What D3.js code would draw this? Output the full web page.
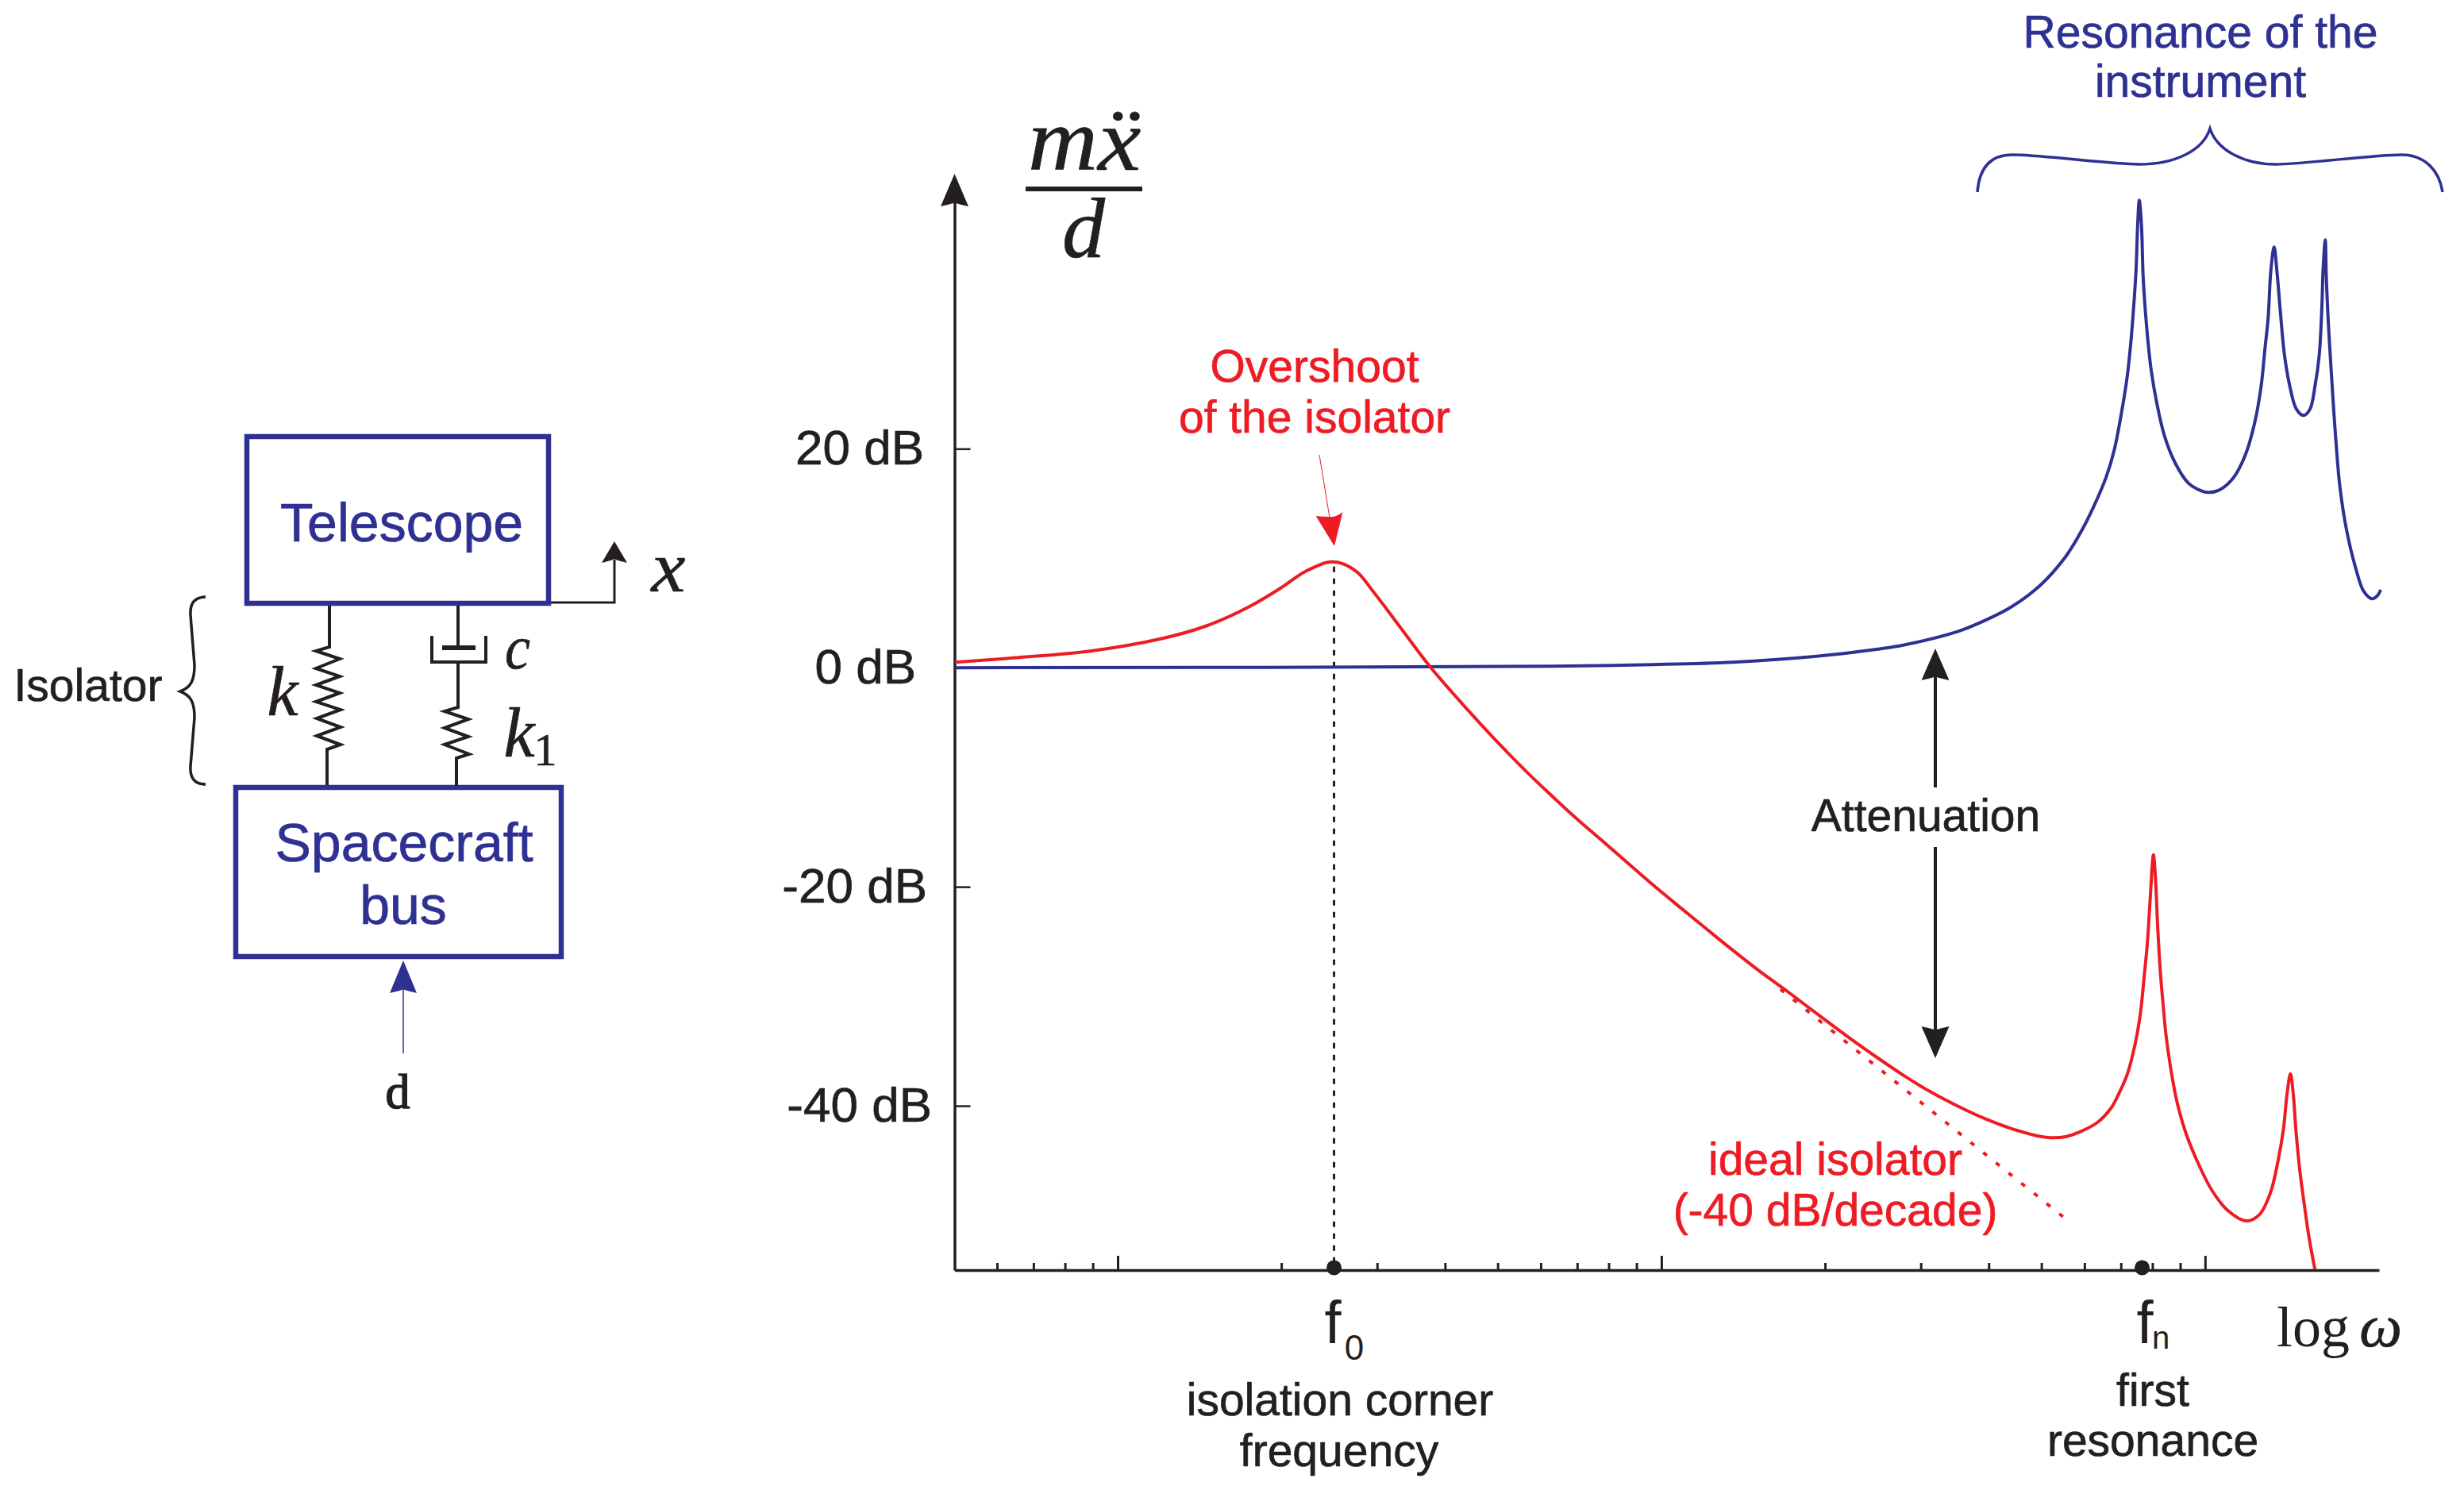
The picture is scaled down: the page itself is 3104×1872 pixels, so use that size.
<!DOCTYPE html>
<html>
<head>
<meta charset="utf-8">
<script src="https://d3js.org/d3.v7.min.js"></script>
<style>
	body { margin: 0; background: #fff; }
	text { font-family: "Liberation Sans", sans-serif; font-size: 57px; fill: #231f20; }
	.math { font-family: "Liberation Serif", serif; font-style: italic; }
	.roman { font-family: "Liberation Serif", serif; }
	.axis path, .axis line { stroke: #231f20; }
</style>
</head>
<body>
<div id="chart"></div>
<script>
// Data. log10 of frequency, response in dB
var isolatorLogW = [-0.299, -0.181, -0.051, 0.079, 0.164, 0.242, 0.301, 0.347, 0.396, 0.438, 0.470, 0.523, 0.575, 0.645, 0.693, 0.743, 0.791, 0.839, 0.889, 0.937, 0.985, 1.035, 1.083, 1.131, 1.181, 1.229, 1.277, 1.350, 1.400, 1.448, 1.496, 1.546, 1.594, 1.642, 1.692, 1.721, 1.745, 1.769, 1.802, 1.828, 1.842, 1.857, 1.872, 1.881, 1.888, 1.894, 1.899, 1.905, 1.909, 1.913, 1.918, 1.923, 1.928, 1.937, 1.949, 1.966, 1.989, 2.013, 2.042, 2.076, 2.100, 2.120, 2.134, 2.144, 2.151, 2.157, 2.162, 2.167, 2.174, 2.183, 2.191, 2.202];
var isolatorDb = [0.51, 0.94, 1.52, 2.64, 3.84, 5.58, 7.32, 8.84, 9.67, 8.84, 6.96, 3.48, 0.07, -3.91, -6.50, -9.05, -11.35, -13.55, -15.70, -17.78, -19.85, -21.90, -23.85, -25.78, -27.72, -29.45, -31.25, -33.95, -35.70, -37.30, -38.75, -40.05, -41.15, -42.05, -42.75, -42.92, -42.80, -42.40, -41.52, -40.14, -38.82, -37.10, -34.20, -31.57, -28.19, -25.05, -21.16, -17.08, -19.49, -23.84, -27.95, -30.85, -33.48, -36.64, -39.78, -42.68, -45.43, -47.75, -49.57, -50.51, -49.93, -47.97, -45.07, -42.17, -38.82, -37.08, -38.82, -42.17, -45.80, -49.20, -51.96, -54.93];
var instrumentLogW = [-0.299, 0.801, 0.985, 1.131, 1.277, 1.404, 1.448, 1.546, 1.580, 1.642, 1.697, 1.743, 1.769, 1.794, 1.818, 1.833, 1.847, 1.857, 1.864, 1.869, 1.873, 1.876, 1.879, 1.883, 1.886, 1.890, 1.895, 1.901, 1.911, 1.925, 1.945, 1.969, 1.993, 2.008, 2.027, 2.052, 2.074, 2.091, 2.103, 2.110, 2.116, 2.121, 2.127, 2.132, 2.139, 2.146, 2.156, 2.168, 2.181, 2.193, 2.202, 2.210, 2.215, 2.217, 2.221, 2.223, 2.227, 2.232, 2.239, 2.248, 2.260, 2.276, 2.292, 2.307, 2.317, 2.323];
var instrumentDb = [0, 0.14, 0.29, 0.51, 1.01, 1.74, 2.10, 3.33, 3.99, 5.51, 7.54, 10.11, 12.17, 14.60, 17.40, 19.90, 23.5, 26.67, 30.02, 33.19, 36.30, 40.43, 42.70, 40.43, 35.82, 32.68, 29.78, 27.12, 24.22, 21.23, 18.70, 16.88, 16.16, 16.01, 16.25, 17.34, 19.42, 22.32, 25.67, 29.06, 31.96, 36.30, 38.41, 36.30, 32.20, 28.57, 25.67, 23.62, 23.04, 23.62, 25.67, 28.57, 33.19, 36.30, 39.06, 35.58, 31.23, 27.12, 21.81, 16.52, 12.63, 9.28, 6.96, 6.30, 6.59, 7.12];
var idealLogW = [1.219, 1.739];
var idealDb = [-29.35, -50.14];

var dbTicks = [20, 0, -20, -40];
var dbLabels = ["20 dB", "0 dB", "-20 dB", "-40 dB"];
var majorTicks = [1, 10, 100];
var minorTicks = [0.6, 0.7, 0.8, 0.9, 2, 3, 4, 5, 6, 7, 8, 9, 20, 30, 40, 50, 60, 70, 80, 90];
var f0 = 2.5, fn = 76.6;

// Variables
var width = 3104,
	height = 1872,
	blue = "#2e3192",
	red = "#ed1c24",
	black = "#231f20",
	svg = d3.select("#chart")
	.append("svg")
	.attr("width", width)
	.attr("height", height),
	x = d3.scaleLinear().domain([-0.3, 2.32]).range([1202.5, 2997]),
	y = d3.scaleLinear().domain([-55, 43]).range([1600, 248]),
	line = d3.line()
	.x(function(d) { return x(d[0]); })
	.y(function(d) { return y(d[1]); })
	.curve(d3.curveCatmullRom.alpha(0.5));

// Axes
var logPos = function(v) { return Math.log10(v); };

svg.append("g")
	.attr("class", "axis")
	.attr("transform", "translate(0,1600)")
	.call(d3.axisBottom(x).tickValues(majorTicks.map(logPos)).tickSize(-18).tickSizeOuter(0).tickFormat(""))
	.call(function(g) { g.selectAll("path").attr("stroke-width", 3.5); g.selectAll("line").attr("stroke-width", 3); });

svg.append("g")
	.attr("class", "axis")
	.attr("transform", "translate(0,1600)")
	.call(d3.axisBottom(x).tickValues(minorTicks.map(logPos)).tickSize(-9).tickFormat(""))
	.call(function(g) { g.select(".domain").remove(); g.selectAll("line").attr("stroke-width", 3); });

svg.append("g")
	.attr("class", "axis")
	.attr("transform", "translate(" + x.range()[0] + ",0)")
	.call(d3.axisRight(y).tickValues(dbTicks).tickSize(20).tickSizeOuter(0).tickFormat(""))
	.call(function(g) { g.select(".domain").attr("stroke-width", 3.5); g.selectAll("line").attr("stroke-width", 2.5); });

var labelRight = [1164, 1154, 1168, 1174];
svg.selectAll(".db-label")
	.data(dbLabels)
	.enter()
	.append("text")
	.attr("class", "db-label")
	.attr("x", function(d, i) { return labelRight[i]; })
	.attr("y", function(d, i) { return y(dbTicks[i]) + 20; })
	.attr("text-anchor", "end")
	.style("font-size", "62px")
	.style("stroke", black)
	.style("stroke-width", 0.7)
	.text(function(d) { return d; });

// arrow head with a small notch at the back
function arrowHead(tx, ty, dir, w, len, color) {
	var b = ty - dir * len, n = ty - dir * (len - 5);
	svg.append("path")
		.attr("d", "M" + tx + "," + ty + "L" + (tx + w / 2) + "," + b + "Q" + tx + "," + (n - dir * 1) + " " + tx + "," + n + "Q" + tx + "," + (n - dir * 1) + " " + (tx - w / 2) + "," + b + "Z")
		.attr("fill", color);
}
function seg(x1, y1, x2, y2, color, sw) {
	svg.append("line")
		.attr("x1", x1).attr("y1", y1).attr("x2", x2).attr("y2", y2)
		.attr("stroke", color).attr("stroke-width", sw);
}
function label(str, px, py, color, anchor) {
	return svg.append("text")
		.attr("x", px).attr("y", py)
		.attr("text-anchor", anchor || "middle")
		.style("fill", color || black)
		.style("stroke", color || black)
		.style("stroke-width", 0.7)
		.text(str);
}

arrowHead(x.range()[0], 219, -1, 35, 41, black);

// y label fraction
label("m\u1E8D", 1366, 214, black).attr("class", "math").style("font-size", "112px").attr("textLength", 142).attr("lengthAdjust", "spacingAndGlyphs");
seg(1292, 238, 1439, 238, black, 6);
label("d", 1365, 324, black).attr("class", "math").style("font-size", "108px");

// Curves
var f0x = x(logPos(f0));
svg.append("line")
	.attr("x1", f0x).attr("x2", f0x).attr("y1", y(9.67) + 6).attr("y2", 1590)
	.attr("stroke", black).attr("stroke-width", 3).attr("stroke-dasharray", "7,8");

svg.append("path")
	.datum(d3.zip(instrumentLogW, instrumentDb))
	.attr("fill", "none").attr("stroke", blue).attr("stroke-width", 4)
	.attr("d", line);
svg.append("path")
	.datum(d3.zip(idealLogW, idealDb))
	.attr("fill", "none").attr("stroke", red).attr("stroke-width", 4).attr("stroke-dasharray", "6,14.5")
	.attr("d", line);
svg.append("path")
	.datum(d3.zip(isolatorLogW, isolatorDb))
	.attr("fill", "none").attr("stroke", red).attr("stroke-width", 4)
	.attr("d", line);

// markers on the frequency axis
svg.selectAll(".marker")
	.data([f0, fn])
	.enter()
	.append("circle")
	.attr("class", "marker")
	.attr("cx", function(d) { return x(logPos(d)); })
	.attr("cy", 1597)
	.attr("r", 9.5)
	.attr("fill", black);

// Frequency labels
label("f", 1679, 1692).style("font-size", "76px").style("stroke", "none");
label("0", 1706, 1713).style("font-size", "44px").style("stroke", "none");
label("isolation corner", 1688, 1783);
label("frequency", 1687, 1847);
label("f", 2702, 1692).style("font-size", "76px").style("stroke", "none");
label("n", 2722, 1699).style("font-size", "40px").style("stroke", "none");
label("first", 2712, 1771);
label("resonance", 2712, 1834);
label("log", 2914, 1696).attr("class", "roman").style("font-size", "72px").style("stroke", "none");
label("\u03C9", 2999, 1696).attr("class", "math").style("font-size", "76px");

// Annotations
label("Overshoot", 1656, 481, red);
label("of the isolator", 1656, 545, red);
seg(1662, 573, 1675, 652, red, 1);
svg.append("path").attr("d", "M1681,688L1691.5,645Q1683,652 1675,651Q1666,651 1657.6,650Z").attr("fill", red);

label("ideal isolator", 2312, 1480, red);
label("(-40 dB/decade)", 2312, 1544, red);

label("Attenuation", 2426, 1047);
seg(2438, 850, 2438, 992, black, 4);
arrowHead(2438, 817, -1, 35, 40, black);
seg(2438, 1067, 2438, 1298, black, 4);
arrowHead(2438, 1333, 1, 35, 40, black);

label("Resonance of the", 2772, 60, blue);
label("instrument", 2772, 122, blue);
svg.append("path")
	.attr("d", "M2491,242C2493,215 2505,195 2535,195C2570,195 2660,207 2694,207C2740,207 2775,190 2784,162C2793,190 2828,207 2867,207C2900,207 2990,195 3025,195C3055,195 3073,215 3077,242")
	.attr("fill", "none").attr("stroke", blue).attr("stroke-width", 3.5);

// Isolator diagram
function box(x1, y1, x2, y2) {
	svg.append("rect")
		.attr("x", x1).attr("y", y1).attr("width", x2 - x1).attr("height", y2 - y1)
		.attr("fill", "none").attr("stroke", blue).attr("stroke-width", 6.5);
}
function wire(pts, sw) {
	svg.append("path")
		.attr("d", d3.line()(pts))
		.attr("fill", "none").attr("stroke", black).attr("stroke-width", sw);
}
box(311, 550, 691, 760);
box(297, 992, 707, 1205);
label("Telescope", 506, 682, blue).style("font-size", "68px");
label("Spacecraft", 509, 1085, blue).style("font-size", "68px");
label("bus", 508, 1164, blue).style("font-size", "68px");

wire([[415, 763], [415, 815], [398, 820], [428, 830], [398, 842], [428, 852], [398, 863], [428, 873], [398, 884], [429, 894], [399, 905], [429, 916], [399, 927], [429, 938], [412, 944], [412, 989]], 4);
wire([[577, 763], [577, 816]], 4);
wire([[544, 801], [544, 834], [612, 834], [612, 801]], 4);
seg(557, 816, 599, 816, black, 6);
wire([[577, 834], [577, 891], [560, 896], [590, 906], [560, 917], [590, 928], [560, 938], [591, 950], [575, 955], [575, 990]], 4);

wire([[694, 759], [774, 759], [774, 705]], 3);
arrowHead(774, 682, -1, 32, 27, black);

label("x", 842, 745).attr("class", "math").style("font-size", "90px").attr("textLength", 43).attr("lengthAdjust", "spacingAndGlyphs");
label("c", 652, 842).attr("class", "math").style("font-size", "78px").attr("textLength", 32).attr("lengthAdjust", "spacingAndGlyphs");
label("k", 356, 901).attr("class", "math").style("font-size", "88px");
label("k", 654, 953).attr("class", "math").style("font-size", "88px");
label("1", 687, 964).attr("class", "roman").style("font-size", "58px");

label("Isolator", 111, 883);
svg.append("path")
	.attr("d", "M259,752C245,752 239,760 240,775L245,838C245,858 240,866 227,871C240,876 245,884 245,904L240,965C239,980 245,988 259,988")
	.attr("fill", "none").attr("stroke", black).attr("stroke-width", 3.5);

seg(508, 1245, 508, 1327, blue, 1.5);
arrowHead(508, 1210, -1, 34, 41, blue);
label("d", 501, 1396).attr("class", "roman").style("font-size", "62px").style("stroke-width", 1.5);
</script>
</body>
</html>
